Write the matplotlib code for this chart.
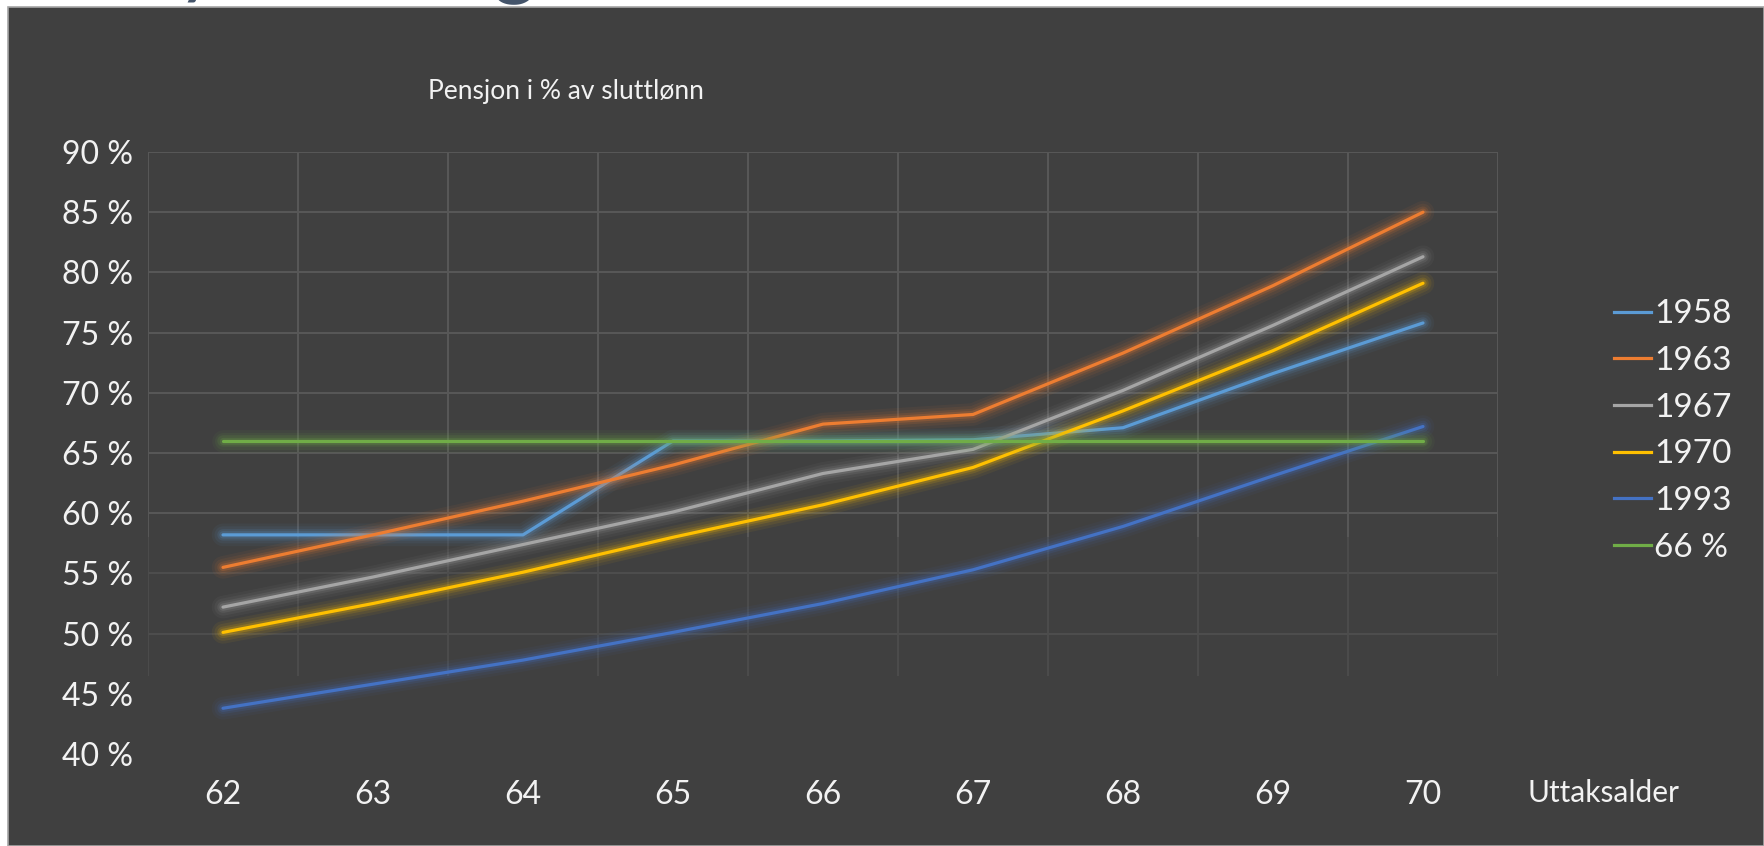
import matplotlib
matplotlib.use("Agg")
import matplotlib.pyplot as plt
from matplotlib import patheffects as pe
from matplotlib.lines import Line2D
from matplotlib.patches import Rectangle

plt.rcParams['font.family'] = ['Lato', 'DejaVu Sans']

# ---- data ----
ages = ["62", "63", "64", "65", "66", "67", "68", "69", "70"]
s1958 = [58.2, 58.2, 58.2, 66.0, 66.0, 66.1, 67.1, 71.6, 75.8]
s1963 = [55.5, 58.2, 61.0, 64.0, 67.4, 68.2, 73.3, 78.9, 85.0]
s1967 = [52.2, 54.7, 57.4, 60.1, 63.3, 65.3, 70.2, 75.6, 81.3]
s1970 = [50.1, 52.5, 55.1, 58.0, 60.7, 63.8, 68.5, 73.5, 79.1]
s1993 = [43.8, 45.8, 47.8, 50.1, 52.5, 55.3, 58.9, 63.1, 67.2]
ref66 = [66.0, 66.0, 66.0, 66.0, 66.0, 66.0, 66.0, 66.0, 66.0]
series_names = ["1958", "1963", "1967", "1970", "1993", "66 %"]
series_vals = [s1958, s1963, s1967, s1970, s1993, ref66]
series_colors = ["#5B9BD5", "#ED7D31", "#A5A5A5", "#FFC000", "#4472C4", "#70AD47"]
yticks = [40, 45, 50, 55, 60, 65, 70, 75, 80, 85, 90]
ytick_labels = ["40 %", "45 %", "50 %", "55 %", "60 %", "65 %", "70 %", "75 %", "80 %", "85 %", "90 %"]
title = "Pensjon i % av sluttlønn"
xlabel = "Uttaksalder"

W, H = 1764, 846
BG = "#404040"
TXT = "#F2F2F2"

fig = plt.figure(figsize=(W / 100, H / 100), dpi=100)
fig.patch.set_facecolor("white")

# dark slide/chart background
fig.add_artist(Rectangle((8 / W, 0), 1 - 8 / W, (H - 7) / H, transform=fig.transFigure,
                         facecolor=BG, edgecolor="#A6A6A6", linewidth=1.2, zorder=1))

# cut-off slide title fragments above the chart (hidden under the chart box)
fig.text(176 / W, (H + 12) / H, "y", color="#44546A", fontsize=60, ha="left", va="baseline", zorder=0.5)
fig.text(492 / W, (H + 12) / H, "g", color="#44546A", fontsize=60, ha="left", va="baseline", zorder=0.5)

left, right, top, bottom = 148, 1498, 152, 754
ax = fig.add_axes([left / W, (H - bottom) / H, (right - left) / W, (bottom - top) / H])
ax.set_zorder(2)
ax.set_facecolor("none")
ax.set_xlim(-0.5, len(ages) - 0.5)
ax.set_ylim(40, 90)
for s in ax.spines.values():
    s.set_visible(False)

# gridlines
n = len(ages)
for yv in yticks:
    if yv >= 50:
        col = "#585858" if yv >= 60 else "#4E4E4E"
        ax.hlines(yv, -0.5, n - 0.5, color=col, linewidth=1.4, zorder=1)
for i in range(n + 1):
    xv = i - 0.5
    ax.vlines(xv, 58, 90, color="#585858", linewidth=1.4, zorder=1)
    ax.vlines(xv, 46.5, 58, color="#4C4C4C", linewidth=1.4, zorder=1)

x = list(range(n))
lw = 2.3
for name, vals, col in zip(series_names, series_vals, series_colors):
    glow = [pe.Stroke(linewidth=lw + w, foreground=col, alpha=a)
            for w, a in [(14, 0.06), (10, 0.08), (6, 0.13), (3, 0.2)]]
    ax.plot(x, vals, color=col, linewidth=lw, solid_capstyle="round", zorder=3,
            path_effects=glow + [pe.Normal()], label=name)

ax.set_yticks(yticks)
ax.set_yticklabels(ytick_labels)
ax.set_xticks(x)
ax.set_xticklabels(ages)
ax.tick_params(axis="both", length=0, labelsize=23, colors=TXT)
ax.tick_params(axis="y", pad=11)
ax.tick_params(axis="x", pad=19)

fig.text(1604 / W, (H - 793) / H, xlabel, color=TXT, fontsize=21.5, ha="center", va="center")
fig.text(566 / W, (H - 91) / H, title, color=TXT, fontsize=19, ha="center", va="center")

handles = [Line2D([0], [0], color=c, linewidth=lw) for c in series_colors]
leg = fig.legend(handles, series_names, loc="center left",
                 bbox_to_anchor=(1614 / W, (H - 431) / H), frameon=False,
                 fontsize=24, labelcolor=TXT, handlelength=1.1, handletextpad=0.1,
                 labelspacing=0.5, borderpad=0, borderaxespad=0)

fig.savefig("out.png", dpi=100, facecolor=fig.get_facecolor())
